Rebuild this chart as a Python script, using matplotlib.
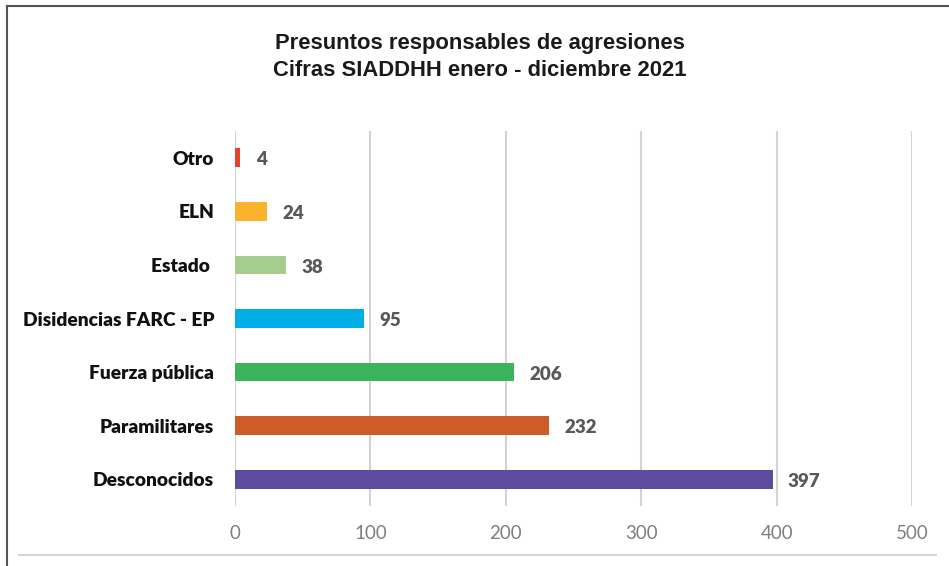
import matplotlib
matplotlib.use("agg")
import matplotlib.pyplot as plt
from matplotlib.lines import Line2D

# Responsables y número de agresiones (de abajo hacia arriba)
responsables = ["Desconocidos", "Paramilitares", "Fuerza pública",
                "Disidencias FARC - EP", "Estado ", "ELN", "Otro"]
agresiones = [397, 232, 206, 95, 38, 24, 4]
colores = ["#5E4B9E", "#CF5B27", "#3BB45C", "#00AEE6",
           "#A6CD8D", "#FBB32D", "#E8432A"]
ticks_x = [0, 100, 200, 300, 400, 500]

W, H = 949, 566
fig = plt.figure(figsize=(W / 100, H / 100), dpi=100)
ax = fig.add_axes([235 / W, 1 - 506 / H, (912 - 235) / W, (506 - 131) / H])

pos = list(range(len(responsables)))
ax.barh(pos, agresiones, height=0.35, color=colores, zorder=3)

for y, v in zip(pos, agresiones):
    ax.annotate(str(v), (v, y), xytext=(11, -1.5), textcoords="offset points",
                va="center", ha="left", fontsize=13.5, fontweight="heavy",
                color="#595959", family="Lato")

ax.set_xlim(0, 500)
ax.set_ylim(-0.5, len(responsables) - 0.5)
ax.set_xticks(ticks_x)
ax.set_xticklabels([str(t) for t in ticks_x], family="Lato", fontsize=13.5,
                   color="#7F7F7F")
ax.set_yticks(pos)
ax.set_yticklabels(responsables, family="Lato", fontsize=13.8,
                   fontweight="heavy", color="#111111")
ax.tick_params(axis="both", length=0)
ax.tick_params(axis="x", pad=14)
ax.tick_params(axis="y", pad=15)
ax.grid(axis="x", color="#D0D3D8", linewidth=1.5, zorder=0)
for s in ax.spines.values():
    s.set_visible(False)

fig.text(480 / W, 1 - 43 / H, "Presuntos responsables de agresiones",
         ha="center", va="center", fontsize=15.8, fontweight="bold",
         family="Liberation Sans", color="#1A1A1A")
fig.text(480 / W, 1 - 71 / H, "Cifras SIADDHH enero - diciembre 2021",
         ha="center", va="center", fontsize=15.8, fontweight="bold",
         family="Liberation Sans", color="#1A1A1A")

# marco del recuadro
fig.add_artist(Line2D([7 / W, 7 / W], [0, 1 - 5.5 / H], color="#555555", lw=1.5))
fig.add_artist(Line2D([7 / W, 1], [1 - 5.5 / H, 1 - 5.5 / H], color="#555555", lw=1.5))
fig.add_artist(Line2D([19 / W, 936 / W], [1 - 555 / H, 1 - 555 / H], color="#D3D3D3", lw=1.5))

fig.savefig("out.png", dpi=100)
